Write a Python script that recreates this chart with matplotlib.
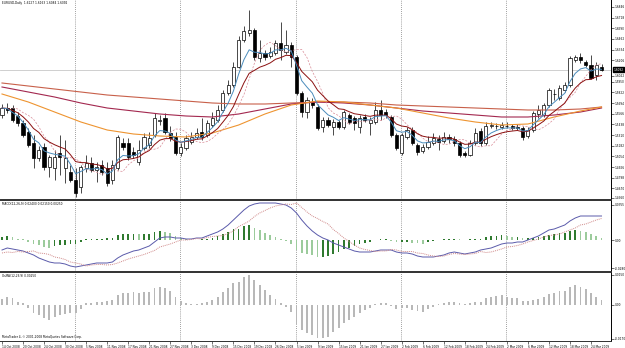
"""
Daily candle chart with moving averages, a MACD window and an OsMA window,
laid out like a MetaTrader 4 screenshot. Saves out.png (625x348).
"""

import numpy as np
import matplotlib.pyplot as plt
from matplotlib.transforms import blended_transform_factory

symbol = "EURUSD,Daily"

# daily bars, 14 Oct 2008 .. 26 Mar 2009
bar_open = [1.5550, 1.5634, 1.5634, 1.5538, 1.5454, 1.5346, 1.5214, 1.5034, 1.5166, 1.4926,
            1.4914, 1.5094, 1.4914, 1.4866, 1.4770, 1.4686, 1.4914, 1.4974, 1.4890, 1.4950,
            1.4914, 1.4770, 1.4914, 1.5214, 1.5214, 1.5106, 1.4986, 1.5154, 1.5190, 1.5310,
            1.5478, 1.5514, 1.5334, 1.5286, 1.5094, 1.5154, 1.5226, 1.5286, 1.5346, 1.5310,
            1.5430, 1.5490, 1.5610, 1.5814, 1.5910, 1.6126, 1.6450, 1.6534, 1.6570, 1.6234,
            1.6294, 1.6258, 1.6294, 1.6414, 1.6306, 1.6390, 1.6246, 1.5814, 1.5586, 1.5706,
            1.5646, 1.5406, 1.5490, 1.5406, 1.5466, 1.5406, 1.5550, 1.5514, 1.5406, 1.5526,
            1.5454, 1.5466, 1.5610, 1.5586, 1.5526, 1.5310, 1.5094, 1.5286, 1.5370, 1.5190,
            1.5118, 1.5166, 1.5214, 1.5262, 1.5238, 1.5286, 1.5262, 1.5214, 1.5094, 1.5070,
            1.5214, 1.5358, 1.5214, 1.5418, 1.5418, 1.5406, 1.5418, 1.5418, 1.5406, 1.5394,
            1.5298, 1.5370, 1.5562, 1.5550, 1.5670, 1.5802, 1.5754, 1.5850, 1.5910, 1.6210,
            1.6246, 1.6186, 1.6150, 1.6030, 1.6127]
bar_high = [1.5682, 1.5694, 1.5670, 1.5586, 1.5490, 1.5394, 1.5310, 1.5178, 1.5214, 1.5070,
            1.5130, 1.5310, 1.5250, 1.4950, 1.4914, 1.4950, 1.5070, 1.5046, 1.4986, 1.5010,
            1.4986, 1.5010, 1.5310, 1.5274, 1.5274, 1.5166, 1.5250, 1.5334, 1.5346, 1.5574,
            1.5550, 1.5574, 1.5418, 1.5346, 1.5214, 1.5310, 1.5346, 1.5394, 1.5514, 1.5490,
            1.5586, 1.5670, 1.5850, 1.5970, 1.6186, 1.6498, 1.6618, 1.6810, 1.6594, 1.6450,
            1.6330, 1.6366, 1.6450, 1.6666, 1.6570, 1.6426, 1.6270, 1.5838, 1.5766, 1.5754,
            1.5682, 1.5526, 1.5526, 1.5502, 1.5490, 1.5610, 1.5574, 1.5538, 1.5550, 1.5562,
            1.5526, 1.5706, 1.5730, 1.5622, 1.5550, 1.5334, 1.5334, 1.5406, 1.5406, 1.5214,
            1.5202, 1.5298, 1.5334, 1.5310, 1.5346, 1.5322, 1.5298, 1.5238, 1.5118, 1.5250,
            1.5394, 1.5394, 1.5466, 1.5466, 1.5454, 1.5466, 1.5466, 1.5442, 1.5442, 1.5418,
            1.5406, 1.5598, 1.5670, 1.5694, 1.5874, 1.5862, 1.5910, 1.5946, 1.6258, 1.6270,
            1.6294, 1.6210, 1.6270, 1.6186, 1.6163]
bar_low = [1.5514, 1.5574, 1.5466, 1.5418, 1.5286, 1.5166, 1.4914, 1.4998, 1.4890, 1.4806,
           1.4770, 1.4830, 1.4734, 1.4746, 1.4566, 1.4614, 1.4866, 1.4866, 1.4746, 1.4830,
           1.4698, 1.4722, 1.4890, 1.5130, 1.5010, 1.5034, 1.4950, 1.5130, 1.5154, 1.5286,
           1.5430, 1.5322, 1.5238, 1.5070, 1.5058, 1.5130, 1.5202, 1.5262, 1.5250, 1.5286,
           1.5406, 1.5466, 1.5586, 1.5790, 1.5886, 1.6114, 1.6426, 1.6498, 1.6210, 1.6186,
           1.6210, 1.6234, 1.6270, 1.6210, 1.6282, 1.6126, 1.5790, 1.5526, 1.5514, 1.5634,
           1.5370, 1.5346, 1.5406, 1.5310, 1.5382, 1.5382, 1.5442, 1.5370, 1.5334, 1.5466,
           1.5310, 1.5442, 1.5490, 1.5514, 1.5286, 1.5130, 1.5070, 1.5262, 1.5190, 1.5070,
           1.5094, 1.5142, 1.5190, 1.5130, 1.5214, 1.5214, 1.5178, 1.5046, 1.5046, 1.5058,
           1.5190, 1.5178, 1.5190, 1.5394, 1.5382, 1.5382, 1.5394, 1.5370, 1.5370, 1.5250,
           1.5274, 1.5346, 1.5514, 1.5526, 1.5646, 1.5730, 1.5730, 1.5826, 1.5886, 1.6186,
           1.6174, 1.6126, 1.5982, 1.5970, 1.6084]
bar_close = [1.5634, 1.5610, 1.5490, 1.5454, 1.5310, 1.5190, 1.5034, 1.5130, 1.4926, 1.5046,
             1.5046, 1.5046, 1.5034, 1.4770, 1.4614, 1.4926, 1.4974, 1.4890, 1.4926, 1.4866,
             1.4734, 1.4950, 1.5286, 1.5166, 1.5046, 1.5070, 1.5130, 1.5286, 1.5274, 1.5514,
             1.5490, 1.5346, 1.5274, 1.5094, 1.5166, 1.5274, 1.5286, 1.5334, 1.5286, 1.5454,
             1.5514, 1.5610, 1.5814, 1.5910, 1.6126, 1.6450, 1.6558, 1.6570, 1.6246, 1.6294,
             1.6246, 1.6306, 1.6414, 1.6330, 1.6390, 1.6246, 1.5814, 1.5586, 1.5730, 1.5670,
             1.5394, 1.5490, 1.5430, 1.5466, 1.5406, 1.5586, 1.5466, 1.5454, 1.5514, 1.5490,
             1.5490, 1.5610, 1.5550, 1.5550, 1.5310, 1.5154, 1.5310, 1.5370, 1.5214, 1.5106,
             1.5166, 1.5226, 1.5274, 1.5226, 1.5286, 1.5262, 1.5214, 1.5070, 1.5070, 1.5214,
             1.5334, 1.5214, 1.5418, 1.5430, 1.5422, 1.5430, 1.5414, 1.5394, 1.5394, 1.5286,
             1.5370, 1.5574, 1.5610, 1.5670, 1.5850, 1.5806, 1.5874, 1.5910, 1.6234, 1.6246,
             1.6210, 1.6150, 1.5994, 1.6150, 1.6092]

# date label every 4th bar, first bar of each month
date_labels = ["14 Oct 2008", "20 Oct 2008", "24 Oct 2008", "30 Oct 2008", "5 Nov 2008",
               "11 Nov 2008", "17 Nov 2008", "21 Nov 2008", "27 Nov 2008", "3 Dec 2008",
               "9 Dec 2008", "15 Dec 2008", "19 Dec 2008", "26 Dec 2008", "5 Jan 2009",
               "9 Jan 2009", "15 Jan 2009", "21 Jan 2009", "27 Jan 2009", "2 Feb 2009",
               "6 Feb 2009", "12 Feb 2009", "18 Feb 2009", "24 Feb 2009", "2 Mar 2009",
               "6 Mar 2009", "12 Mar 2009", "18 Mar 2009", "24 Mar 2009"]
month_start_bars = [14, 34, 56, 76, 96]

# slow moving averages
ma_bars = [0, 5, 10, 15, 20, 25, 30, 35, 40, 45, 50, 55, 60, 65, 70, 75, 80, 85, 90, 95,
           100, 105, 110, 114]
ma_orange = [1.5802, 1.5706, 1.5586, 1.5466, 1.5370, 1.5322, 1.5298, 1.5286, 1.5334, 1.5430,
             1.5562, 1.5670, 1.5718, 1.5706, 1.5670, 1.5634, 1.5574, 1.5514, 1.5466, 1.5430,
             1.5442, 1.5526, 1.5598, 1.5646]
ma_red = [1.5934, 1.5898, 1.5862, 1.5826, 1.5790, 1.5766, 1.5742, 1.5718, 1.5694, 1.5682,
          1.5682, 1.5694, 1.5706, 1.5706, 1.5694, 1.5670, 1.5658, 1.5646, 1.5634, 1.5622,
          1.5610, 1.5610, 1.5622, 1.5646]
ma_maroon = [1.5886, 1.5826, 1.5766, 1.5694, 1.5634, 1.5598, 1.5562, 1.5538, 1.5526, 1.5562,
             1.5622, 1.5682, 1.5706, 1.5694, 1.5670, 1.5634, 1.5598, 1.5574, 1.5550, 1.5526,
             1.5526, 1.5550, 1.5586, 1.5634]

# MACD(12,26,9) main line and main-minus-signal histogram
macd_main = [-0.010, -0.008, -0.009, -0.010, -0.011, -0.013, -0.015, -0.018, -0.020, -0.022,
             -0.023, -0.023, -0.024, -0.026, -0.027, -0.026, -0.025, -0.024, -0.023, -0.023,
             -0.023, -0.022, -0.018, -0.015, -0.013, -0.011, -0.010, -0.008, -0.006, -0.002,
             0.002, 0.003, 0.003, 0.002, 0.002, 0.001, 0.001, 0.002, 0.002, 0.004,
             0.006, 0.008, 0.011, 0.015, 0.020, 0.025, 0.030, 0.034, 0.036, 0.037,
             0.037, 0.037, 0.037, 0.036, 0.035, 0.032, 0.027, 0.020, 0.014, 0.009,
             0.005, 0.002, 0.000, -0.003, -0.005, -0.007, -0.009, -0.011, -0.012, -0.012,
             -0.012, -0.011, -0.010, -0.010, -0.010, -0.012, -0.013, -0.013, -0.014, -0.016,
             -0.017, -0.017, -0.017, -0.016, -0.015, -0.013, -0.012, -0.013, -0.014, -0.013,
             -0.012, -0.010, -0.009, -0.008, -0.006, -0.004, -0.003, -0.003, -0.002, -0.002,
             0.000, 0.002, 0.004, 0.007, 0.010, 0.011, 0.013, 0.015, 0.019, 0.022,
             0.024, 0.024, 0.024, 0.024, 0.024]
osma = [0.0030, 0.0040, 0.0035, 0.0015, 0.0010, -0.0015, -0.0040, -0.0050, -0.0065, -0.0075,
        -0.0060, -0.0050, -0.0045, -0.0040, -0.0040, -0.0020, 0.0010, 0.0010, 0.0015, 0.0015,
        0.0020, 0.0025, 0.0050, 0.0060, 0.0060, 0.0065, 0.0060, 0.0065, 0.0065, 0.0085,
        0.0090, 0.0085, 0.0070, 0.0040, 0.0020, 0.0010, 0.0005, 0.0005, 0.0010, 0.0015,
        0.0025, 0.0040, 0.0065, 0.0085, 0.0110, 0.0115, 0.0140, 0.0150, 0.0125, 0.0100,
        0.0075, 0.0050, 0.0030, 0.0010, -0.0010, -0.0035, -0.0100, -0.0125, -0.0140, -0.0150,
        -0.0165, -0.0165, -0.0160, -0.0135, -0.0115, -0.0090, -0.0075, -0.0060, -0.0040, -0.0025,
        -0.0015, 0.0005, 0.0010, 0.0010, -0.0005, -0.0020, -0.0015, -0.0015, -0.0025, -0.0030,
        -0.0035, -0.0020, -0.0010, 0.0005, 0.0010, 0.0015, 0.0015, 0.0010, 0.0005, 0.0010,
        0.0015, 0.0015, 0.0035, 0.0040, 0.0045, 0.0050, 0.0040, 0.0035, 0.0035, 0.0020,
        0.0020, 0.0025, 0.0030, 0.0040, 0.0055, 0.0060, 0.0070, 0.0070, 0.0090, 0.0100,
        0.0090, 0.0080, 0.0060, 0.0040, 0.0025]

price_ticks = [1.6846, 1.6718, 1.6590, 1.6462, 1.6334, 1.6206, 1.6022, 1.5950, 1.5822, 1.5694,
               1.5566, 1.5438, 1.5310, 1.5182, 1.5054, 1.4926, 1.4798, 1.4670, 1.4560]
macd_ticks = [0.0355, 0.0, -0.0280]
osma_ticks = [0.0150, 0.0, -0.0170]

FS = 2.1


def ema(values, period):
    """Exponential moving average, seeded with the first value."""
    k = 2.0 / (period + 1)
    out = [values[0]]
    for v in values[1:]:
        out.append(out[-1] + k * (v - out[-1]))
    return np.array(out)


def sma(values, period):
    """Simple moving average (shorter window at the start)."""
    values = np.asarray(values)
    return np.array([values[max(0, i - period + 1):i + 1].mean() for i in range(len(values))])


def style_panel(ax, ticks, fmt):
    ax.set_facecolor("white")
    ax.yaxis.tick_right()
    ax.set_yticks(ticks)
    ax.set_yticklabels([fmt(t) for t in ticks])
    ax.tick_params(axis="y", labelsize=FS, length=2, width=0.4, pad=0.8)
    ax.spines["left"].set_visible(False)
    ax.spines["right"].set_linewidth(0.7)
    for s in ("top", "bottom"):
        ax.spines[s].set_linewidth(0.7)
        ax.spines[s].set_color("#303030")


def main():
    o = np.array(bar_open)
    h = np.array(bar_high)
    l = np.array(bar_low)
    c = np.array(bar_close)
    n = len(c)
    bars = np.arange(n)

    fig = plt.figure(figsize=(6.25, 3.48), dpi=100)
    fig.patch.set_facecolor("white")
    right = 611 / 625
    ax_p = fig.add_axes([0, 149 / 348, right, 199 / 348])
    ax_m = fig.add_axes([0, 77 / 348, right, 71 / 348], sharex=ax_p)
    ax_o = fig.add_axes([0, 7 / 348, right, 69 / 348], sharex=ax_p)

    # ---- price window ----
    ax_p.axhline(c[-1], color="#C8C8C8", lw=0.6, zorder=1)
    ax_p.vlines(bars, l, h, color="black", lw=0.5, zorder=2)
    up = c >= o
    body_low = np.minimum(o, c)
    body_h = np.maximum(np.abs(c - o), 1e-5)
    ax_p.bar(bars[up], body_h[up], bottom=body_low[up], width=0.6,
             color="white", edgecolor="black", lw=0.5, zorder=3)
    ax_p.bar(bars[~up], body_h[~up], bottom=body_low[~up], width=0.6,
             color="black", edgecolor="black", lw=0.5, zorder=3)

    ax_p.plot(ma_bars, ma_red, color="#C8604A", lw=0.8, zorder=4)
    ax_p.plot(ma_bars, ma_maroon, color="#A3284F", lw=0.8, zorder=4)
    ax_p.plot(ma_bars, ma_orange, color="#EE9430", lw=0.8, zorder=4)

    fast = ema(c, 5)
    slow = ema(c, 10)
    shifted = sma(c, 5)
    ax_p.plot(bars[2:], shifted[:-2], color="#D88A96", lw=0.5, ls=(0, (3, 2)), zorder=4)
    ax_p.plot(bars, slow, color="#8B1010", lw=0.7, zorder=5)
    ax_p.plot(bars, fast, color="#4A8CBC", lw=0.7, zorder=5)

    ax_p.set_ylim(1.4542, 1.6930)
    style_panel(ax_p, price_ticks, lambda t: f"{t:.4f}")
    ax_p.spines["top"].set_visible(False)
    ax_p.text(0.003, 0.995, f"{symbol}  {o[-1]:.4f} {h[-1]:.4f} {l[-1]:.4f} {c[-1]:.4f}",
              transform=ax_p.transAxes, fontsize=FS, va="top", ha="left")
    tr = blended_transform_factory(ax_p.transAxes, ax_p.transData)
    ax_p.text(1.004, c[-1], f"{c[-1]:.4f}", transform=tr, fontsize=FS, color="white",
              va="center", ha="left", zorder=10,
              bbox=dict(facecolor="black", edgecolor="black", pad=0.3))

    # ---- MACD window ----
    main_line = np.array(macd_main)
    hist = np.array(osma)
    signal = main_line - hist
    rising = np.concatenate([[True], hist[1:] >= hist[:-1]])
    colors = np.where(rising, "#2F7A2F", "#9CCB9C")
    ax_m.bar(bars, hist, width=0.32, color=colors, zorder=2)
    ax_m.plot(bars, main_line, color="#5A5AAA", lw=0.7, zorder=3)
    ax_m.plot(bars, signal, color="#D08A8A", lw=0.7, ls=(0, (1, 1)), zorder=3)
    ax_m.set_ylim(-0.031, 0.0400)
    style_panel(ax_m, macd_ticks, lambda t: "0.00" if t == 0 else f"{t:.4f}")
    ax_m.text(0.003, 0.97, f"MACD(12,26,9) {main_line[-1]:.5f} {signal[-1]:.5f} {hist[-1]:.5f}",
              transform=ax_m.transAxes, fontsize=FS, va="top", ha="left")

    # ---- OsMA window ----
    ax_o.bar(bars, hist, width=0.36, color="#B8B8B8", zorder=2)
    ax_o.set_ylim(-0.018, 0.0165)
    style_panel(ax_o, osma_ticks, lambda t: "0.00" if t == 0 else f"{t:.4f}")
    ax_o.text(0.003, 0.97, f"OsMA(12,26,9) {hist[-1]:.5f}",
              transform=ax_o.transAxes, fontsize=FS, va="top", ha="left")
    ax_o.text(0.003, 0.03, "MetaTrader 4, \u00a9 2001-2008 MetaQuotes Software Corp.",
              transform=ax_o.transAxes, fontsize=FS, va="bottom", ha="left")

    # month separators
    for ax in (ax_p, ax_m, ax_o):
        for m in month_start_bars:
            ax.axvline(m - 0.15, color="#808080", lw=0.6, ls=(0, (1, 1.5)), zorder=1)

    ax_p.set_xlim(-0.38, 115.8)
    ax_o.set_xticks(bars[::4])
    ax_o.set_xticklabels(date_labels, ha="left")
    ax_o.tick_params(axis="x", labelsize=FS, length=2, width=0.4, pad=0.6)
    for ax in (ax_p, ax_m):
        ax.tick_params(axis="x", bottom=False, labelbottom=False)

    fig.savefig("out.png", dpi=100)
    plt.close(fig)


if __name__ == "__main__":
    main()
